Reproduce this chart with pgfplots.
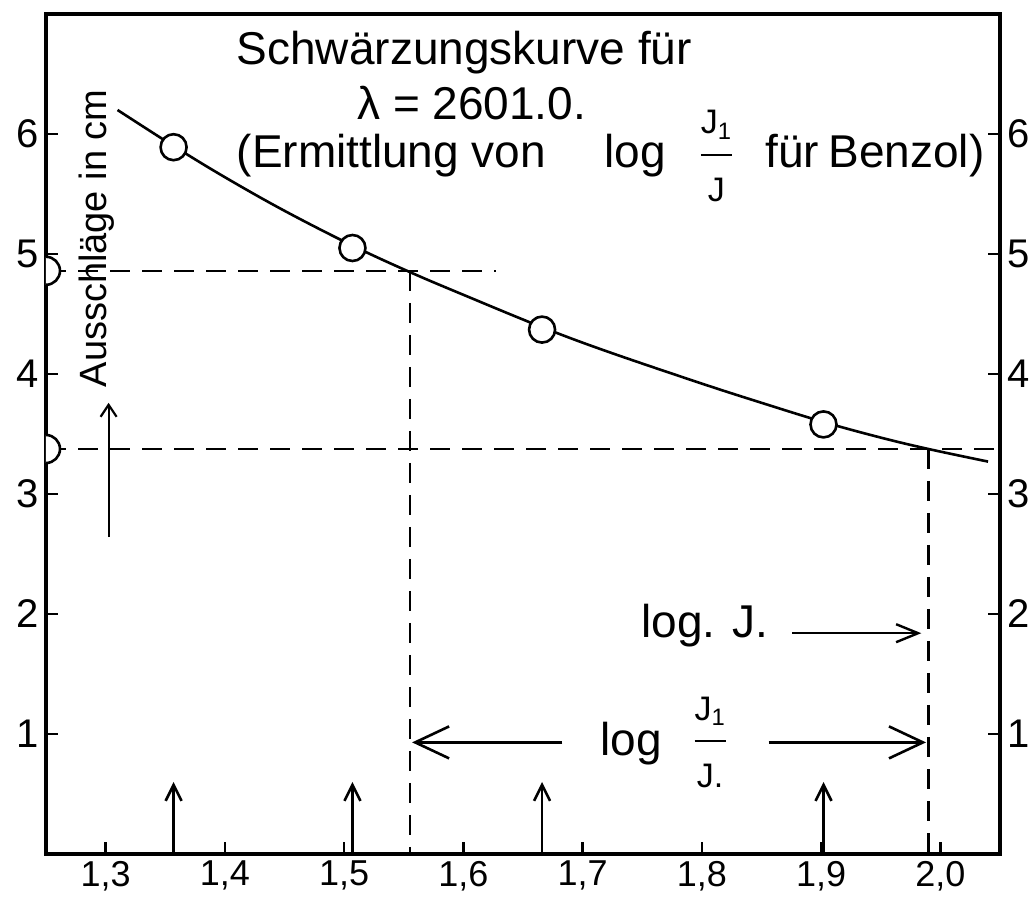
\documentclass[border=0pt]{standalone}
\usepackage{pgfplots}
\pgfplotsset{compat=1.18}
\usepackage{amsmath}
\usepackage{fontspec}
\setmainfont{Liberation Sans}
\usetikzlibrary{arrows.meta}
\newcommand\TitleFont{\fontsize{23}{28}\selectfont}
\newcommand\AnnFont{\fontsize{23}{26}\selectfont}
\newcommand\FracFont{\fontsize{17}{17}\selectfont}
\pgfdeclareplotmark{rhalf}{%
  \pgfpathmoveto{\pgfqpoint{0pt}{\pgfplotmarksize}}%
  \pgfpatharc{90}{-90}{\pgfplotmarksize}%
  \pgfusepathqfillstroke}
\begin{document}
\begin{tikzpicture}
\useasboundingbox (-23pt,-22pt) rectangle (493.5pt,427pt);
\begin{axis}[
  at={(0,0)}, anchor=south west,
  scale only axis, width=477pt, height=420pt,
  xmin=1.25, xmax=2.05, ymin=0, ymax=7,
  axis on top,
  axis line style={line width=1.6pt},
  every tick/.style={black, line width=1.3pt},
  major tick length=6pt,
  tick align=inside,
  xtick={1.3,1.4,1.5,1.6,1.7,1.8,1.9,2.0},
  xticklabels={{1,3},{1,4},{1,5},{1,6},{1,7},{1,8},{1,9},{2,0}},
  xtick pos=bottom,
  ytick={1,2,3,4,5,6},
  yticklabels={1,2,3,4,5,6},
  ytick pos=both,
  yticklabel pos=left,
  x tick label style={font=\fontsize{18}{18}\selectfont},
  y tick label style={font=\fontsize{20}{20}\selectfont},
]
% dashed construction lines
\addplot[black, line width=1.2pt, dash pattern=on 10pt off 6pt] coordinates {(1.25,4.86) (1.627,4.86)};
\addplot[black, line width=1.2pt, dash pattern=on 10pt off 6pt] coordinates {(1.555,4.86) (1.555,0)};
\addplot[black, line width=1.2pt, dash pattern=on 10pt off 6pt] coordinates {(1.25,3.375) (2.05,3.375)};
\addplot[black, line width=1.2pt, dash pattern=on 10pt off 6pt] coordinates {(1.99,3.375) (1.99,0)};
% curve
\addplot[black, line width=1.3pt, smooth, tension=0.6] coordinates {
 (1.31,6.20) (1.357,5.90) (1.40,5.64) (1.45,5.36) (1.507,5.07) (1.555,4.85)
 (1.60,4.66) (1.666,4.39) (1.72,4.19) (1.80,3.92) (1.85,3.76) (1.902,3.60)
 (1.95,3.47) (1.99,3.375) (2.04,3.27)};
% measured points
\addplot[only marks, mark=*, mark size=6.5pt, mark options={fill=white, draw=black, line width=1.3pt}] coordinates {
 (1.357,5.89) (1.507,5.05) (1.666,4.37) (1.902,3.58)};
% half circles on left axis
\addplot[only marks, mark=rhalf, mark size=7pt, mark options={fill=white, draw=black, line width=1.3pt}] coordinates {
 (1.25,4.86) (1.25,3.375)};
% arrows at the bottom
\addplot[black, line width=1.3pt, -{Straight Barb[length=8pt,width=8pt]}] coordinates {(1.357,0) (1.357,0.6)};
\addplot[black, line width=1.3pt, -{Straight Barb[length=8pt,width=8pt]}] coordinates {(1.507,0) (1.507,0.6)};
\addplot[black, line width=1.3pt, -{Straight Barb[length=8pt,width=8pt]}] coordinates {(1.666,0) (1.666,0.6)};
\addplot[black, line width=1.3pt, -{Straight Barb[length=8pt,width=8pt]}] coordinates {(1.902,0) (1.902,0.6)};
% y label arrow
\addplot[black, line width=1.1pt, -{Straight Barb[length=6pt,width=8pt]}] coordinates {(1.3025,2.64) (1.3025,3.76)};
% log J arrow
\addplot[black, line width=1.2pt, -{Straight Barb[length=11pt,width=9pt]}] coordinates {(1.876,1.84) (1.984,1.84)};
% log J1/J arrows
\addplot[black, line width=1.3pt, -{Straight Barb[length=17pt,width=16pt]}] coordinates {(1.683,0.93) (1.557,0.93)};
\addplot[black, line width=1.3pt, -{Straight Barb[length=17pt,width=16pt]}] coordinates {(1.856,0.93) (1.988,0.93)};
% texts
\node[anchor=base west, font=\TitleFont] at (axis cs:1.404,6.58) {Schwärzungskurve für};
\node[anchor=base, font=\TitleFont] at (axis cs:1.607,6.12) {λ = 2601.0.};
\node[anchor=base west, font=\TitleFont] at (axis cs:1.404,5.72) {(Ermittlung von\hspace{1em} log\hspace{0.7em}$\dfrac{\text{\FracFont J\textsubscript{1}}}{\text{\FracFont J}}$\hspace{0.4em} für\hspace{0.2em}Benzol)};
\node[rotate=90, font=\fontsize{19}{19}\selectfont] at (axis cs:1.2928,5.13) {Ausschläge in cm};
\node[anchor=base, font=\AnnFont] at (axis cs:1.8026,1.80) {log. J.};
\node[anchor=base, font=\AnnFont] at (axis cs:1.7406,0.82) {log};
\node[font=\AnnFont] at (axis cs:1.807,0.93) {$\dfrac{\text{\FracFont J\textsubscript{1}}}{\text{\FracFont J.}}$};
\end{axis}
\begin{axis}[
  at={(0,0)}, anchor=south west,
  scale only axis, width=477pt, height=420pt,
  xmin=1.25, xmax=2.05, ymin=0, ymax=7,
  hide x axis,
  axis y line*=right,
  axis line style={draw=none},
  major tick length=0pt,
  ytick={1,2,3,4,5,6},
  yticklabels={1,2,3,4,5,6},
  y tick label style={font=\fontsize{20}{20}\selectfont},
]
\addplot[draw=none] coordinates {(1.5,1)};
\end{axis}
\end{tikzpicture}
\end{document}
